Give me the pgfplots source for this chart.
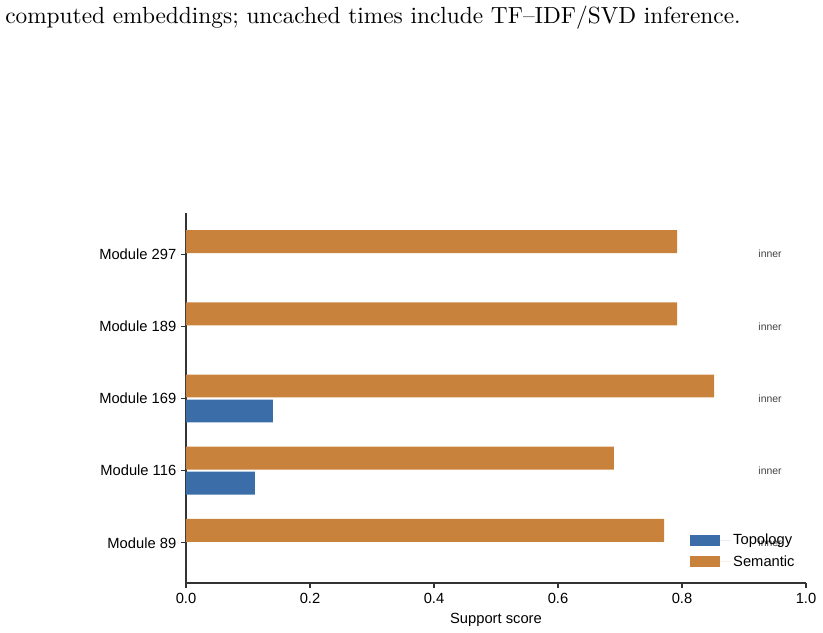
\documentclass[border=0pt]{standalone}
\usepackage{fontspec}
\newfontfamily\arial{Liberation Sans}
\newfontfamily\lmten{lmroman10-regular}[Extension=.otf, Ligatures=TeX]
\usepackage{pgfplots}
\pgfplotsset{compat=1.18}
\definecolor{topo}{RGB}{59,110,168}
\definecolor{sem}{RGB}{200,130,60}
\begin{document}
\begin{tikzpicture}
\useasboundingbox (0pt,0pt) rectangle (592.56pt,455.76pt);
\node[anchor=base west, inner sep=0pt, font=\lmten\fontsize{16.8}{20}\selectfont] at (3.6pt,438.5pt) {computed embeddings; uncached times include TF–IDF/SVD inference.};
\begin{axis}[
  at={(133.92pt,36pt)}, anchor=south west,
  scale only axis, width=446.4pt, height=266.4pt,
  xmin=0, xmax=1, ymin=-0.556, ymax=4.57,
  xbar, bar width=16.5pt,
  axis x line*=bottom, axis y line*=left,
  axis line style={-, black!80, line width=0.8pt},
  tick style={black!80, line width=0.8pt},
  tick align=outside, major tick length=3.5pt,
  xtick={0,0.2,0.4,0.6,0.8,1.0},
  xticklabel style={/pgf/number format/.cd, fixed, fixed zerofill, precision=1},
  /pgf/number format/assume math mode=true,
  ytick={0,1,2,3,4},
  yticklabels={Module 89, Module 116, Module 169, Module 189, Module 297},
  tick label style={font=\arial\fontsize{10.6}{12}\selectfont},
  xlabel={Support score},
  label style={font=\arial\fontsize{10.6}{12}\selectfont},
  clip=false,
  legend style={at={(1,0)}, anchor=south east, xshift=-3pt, yshift=6.5pt, draw=none, fill=none,
    font=\arial\fontsize{10.6}{12}\selectfont, row sep=2pt},
  legend cell align=left,
  legend image code/.code={\path[#1,draw=none] (0pt,-3.8pt) rectangle (21.6pt,3.8pt); \path (0pt,0pt) -- (29pt,0pt);},
]
\addplot[fill=topo, draw=none, bar shift=-9pt] coordinates {(0,0) (0.111,1) (0.140,2) (0,3) (0,4)};
\addlegendentry{Topology}
\addplot[fill=sem, draw=none, bar shift=9pt] coordinates {(0.771,0) (0.690,1) (0.852,2) (0.792,3) (0.792,4)};
\addlegendentry{Semantic}
\node[font=\arial\fontsize{7.5}{9}\selectfont, text=black!75] at (axis cs:0.942,0) {inner};
\node[font=\arial\fontsize{7.5}{9}\selectfont, text=black!75] at (axis cs:0.942,1) {inner};
\node[font=\arial\fontsize{7.5}{9}\selectfont, text=black!75] at (axis cs:0.942,2) {inner};
\node[font=\arial\fontsize{7.5}{9}\selectfont, text=black!75] at (axis cs:0.942,3) {inner};
\node[font=\arial\fontsize{7.5}{9}\selectfont, text=black!75] at (axis cs:0.942,4) {inner};
\end{axis}
\end{tikzpicture}
\end{document}
